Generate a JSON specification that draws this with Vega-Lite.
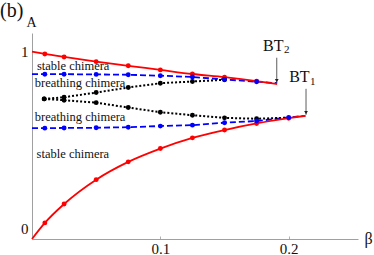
{
  "$schema": "https://vega.github.io/schema/vega-lite/v6.json",
  "width": 326,
  "height": 206,
  "autosize": {"type": "none"},
  "padding": {"left": 32, "top": 33, "right": 16, "bottom": 16},
  "background": "white",
  "config": {
    "view": {"stroke": null},
    "font": "Liberation Serif",
    "axis": {
      "grid": false,
      "domainColor": "#a0a0a0",
      "tickColor": "#b0b0b0",
      "labelFont": "Liberation Serif",
      "labelFontSize": 15,
      "labelColor": "#111",
      "titleFont": "Liberation Serif",
      "titleFontWeight": "normal",
      "titleColor": "#111"
    }
  },
  "datasets": {
    "curves": [
      {"grp": "red", "branch": "ru", "beta": 0, "A": 1.0, "dot": false},
      {"grp": "red", "branch": "ru", "beta": 0.01, "A": 0.988, "dot": true},
      {"grp": "red", "branch": "ru", "beta": 0.025, "A": 0.972, "dot": true},
      {"grp": "red", "branch": "ru", "beta": 0.05, "A": 0.947, "dot": true},
      {"grp": "red", "branch": "ru", "beta": 0.075, "A": 0.925, "dot": true},
      {"grp": "red", "branch": "ru", "beta": 0.1, "A": 0.903, "dot": true},
      {"grp": "red", "branch": "ru", "beta": 0.125, "A": 0.881, "dot": true},
      {"grp": "red", "branch": "ru", "beta": 0.15, "A": 0.864, "dot": true},
      {"grp": "red", "branch": "ru", "beta": 0.175, "A": 0.843, "dot": true},
      {"grp": "red", "branch": "ru", "beta": 0.191, "A": 0.827, "dot": false},
      {"grp": "red", "branch": "rl", "beta": 0, "A": 0, "dot": false},
      {"grp": "red", "branch": "rl", "beta": 0.01, "A": 0.086, "dot": true},
      {"grp": "red", "branch": "rl", "beta": 0.025, "A": 0.187, "dot": true},
      {"grp": "red", "branch": "rl", "beta": 0.05, "A": 0.317, "dot": true},
      {"grp": "red", "branch": "rl", "beta": 0.075, "A": 0.412, "dot": true},
      {"grp": "red", "branch": "rl", "beta": 0.1, "A": 0.483, "dot": true},
      {"grp": "red", "branch": "rl", "beta": 0.125, "A": 0.540, "dot": true},
      {"grp": "red", "branch": "rl", "beta": 0.15, "A": 0.582, "dot": true},
      {"grp": "red", "branch": "rl", "beta": 0.175, "A": 0.617, "dot": true},
      {"grp": "red", "branch": "rl", "beta": 0.2, "A": 0.645, "dot": true},
      {"grp": "red", "branch": "rl", "beta": 0.213, "A": 0.658, "dot": false},
      {"grp": "blue", "branch": "bu", "beta": 0, "A": 0.880, "dot": false},
      {"grp": "blue", "branch": "bu", "beta": 0.01, "A": 0.880, "dot": true},
      {"grp": "blue", "branch": "bu", "beta": 0.025, "A": 0.880, "dot": true},
      {"grp": "blue", "branch": "bu", "beta": 0.05, "A": 0.879, "dot": true},
      {"grp": "blue", "branch": "bu", "beta": 0.075, "A": 0.877, "dot": true},
      {"grp": "blue", "branch": "bu", "beta": 0.1, "A": 0.872, "dot": true},
      {"grp": "blue", "branch": "bu", "beta": 0.125, "A": 0.865, "dot": true},
      {"grp": "blue", "branch": "bu", "beta": 0.15, "A": 0.852, "dot": true},
      {"grp": "blue", "branch": "bu", "beta": 0.175, "A": 0.840, "dot": true},
      {"grp": "blue", "branch": "bu", "beta": 0.191, "A": 0.832, "dot": false},
      {"grp": "blue", "branch": "bl", "beta": 0, "A": 0.592, "dot": false},
      {"grp": "blue", "branch": "bl", "beta": 0.01, "A": 0.592, "dot": true},
      {"grp": "blue", "branch": "bl", "beta": 0.025, "A": 0.593, "dot": true},
      {"grp": "blue", "branch": "bl", "beta": 0.05, "A": 0.594, "dot": true},
      {"grp": "blue", "branch": "bl", "beta": 0.075, "A": 0.597, "dot": true},
      {"grp": "blue", "branch": "bl", "beta": 0.1, "A": 0.603, "dot": true},
      {"grp": "blue", "branch": "bl", "beta": 0.125, "A": 0.608, "dot": true},
      {"grp": "blue", "branch": "bl", "beta": 0.15, "A": 0.621, "dot": true},
      {"grp": "blue", "branch": "bl", "beta": 0.175, "A": 0.630, "dot": true},
      {"grp": "blue", "branch": "bl", "beta": 0.2, "A": 0.649, "dot": true},
      {"grp": "blue", "branch": "bl", "beta": 0.213, "A": 0.658, "dot": false},
      {"grp": "black", "branch": "ku", "beta": 0.0095, "A": 0.748, "dot": true},
      {"grp": "black", "branch": "ku", "beta": 0.025, "A": 0.757, "dot": true},
      {"grp": "black", "branch": "ku", "beta": 0.05, "A": 0.782, "dot": true},
      {"grp": "black", "branch": "ku", "beta": 0.075, "A": 0.809, "dot": true},
      {"grp": "black", "branch": "ku", "beta": 0.1, "A": 0.832, "dot": true},
      {"grp": "black", "branch": "ku", "beta": 0.125, "A": 0.841, "dot": true},
      {"grp": "black", "branch": "ku", "beta": 0.15, "A": 0.850, "dot": true},
      {"grp": "black", "branch": "kl", "beta": 0.0095, "A": 0.748, "dot": true},
      {"grp": "black", "branch": "kl", "beta": 0.025, "A": 0.741, "dot": true},
      {"grp": "black", "branch": "kl", "beta": 0.05, "A": 0.728, "dot": true},
      {"grp": "black", "branch": "kl", "beta": 0.075, "A": 0.702, "dot": true},
      {"grp": "black", "branch": "kl", "beta": 0.1, "A": 0.677, "dot": true},
      {"grp": "black", "branch": "kl", "beta": 0.125, "A": 0.661, "dot": true},
      {"grp": "black", "branch": "kl", "beta": 0.15, "A": 0.647, "dot": true},
      {"grp": "black", "branch": "kl", "beta": 0.175, "A": 0.642, "dot": true},
      {"grp": "black", "branch": "kl", "beta": 0.2, "A": 0.648, "dot": false}
    ],
    "regions": [
      {"text": "stable chimera", "beta": 0.0038, "A": 0.901},
      {"text": "breathing chimera", "beta": 0.0022, "A": 0.811},
      {"text": "breathing chimera", "beta": 0.0022, "A": 0.631},
      {"text": "stable chimera", "beta": 0.0036, "A": 0.433}
    ],
    "bt": [
      {"name": "BT", "sub": "2", "beta": 0.1959, "A": 1.0016, "Asub": 0.991, "arrowX": 0.1907, "top": 0.968, "bottom": 0.834, "head": 0.846},
      {"name": "BT", "sub": "1", "beta": 0.2163, "A": 0.836, "Asub": 0.822, "arrowX": 0.2135, "top": 0.802, "bottom": 0.663, "head": 0.675}
    ],
    "panel": [
      {"text": "(b)", "beta": -0.0249, "A": 1.187}
    ]
  },
  "layer": [
    {
      "data": {"name": "curves"},
      "transform": [{"filter": "datum.grp == 'blue'"}],
      "mark": {"type": "line", "color": "#0000ff", "strokeWidth": 1.8, "strokeDash": [6, 3]},
      "encoding": {
        "x": {"field": "beta", "type": "quantitative", "scale": {"domain": [0, 0.254], "nice": false},
          "axis": {"values": [0.1, 0.2], "format": ".1f", "tickSize": -3, "labelPadding": 5, "title": "β", "titleFontSize": 16, "titleAngle": 0, "titleX": 336, "titleY": 4, "titleAlign": "center", "titleBaseline": "alphabetic"}},
        "y": {"field": "A", "type": "quantitative", "scale": {"domain": [0, 1.1], "nice": false},
          "axis": {"values": [0, 1], "format": "d", "ticks": false, "labelPadding": 4,
            "labelBaseline": {"condition": {"test": "datum.value == 0", "value": "bottom"}, "value": "middle"},
            "labelOffset": {"condition": {"test": "datum.value == 0", "value": -3}, "value": 0},
            "title": "A", "titleFontSize": 14, "titleAngle": 0, "titleX": -1, "titleY": -7, "titleAlign": "center", "titleBaseline": "alphabetic"}},
        "detail": {"field": "branch"},
        "order": {"field": "beta"}
      }
    },
    {
      "data": {"name": "curves"},
      "transform": [{"filter": "datum.grp == 'black'"}],
      "mark": {"type": "line", "color": "#000000", "strokeWidth": 2, "strokeDash": [2, 2]},
      "encoding": {
        "x": {"field": "beta", "type": "quantitative"},
        "y": {"field": "A", "type": "quantitative"},
        "detail": {"field": "branch"},
        "order": {"field": "beta"}
      }
    },
    {
      "data": {"name": "curves"},
      "transform": [{"filter": "datum.grp == 'red'"}],
      "mark": {"type": "line", "color": "#ff0000", "strokeWidth": 1.8, "interpolate": "monotone"},
      "encoding": {
        "x": {"field": "beta", "type": "quantitative"},
        "y": {"field": "A", "type": "quantitative"},
        "detail": {"field": "branch"},
        "order": {"field": "beta"}
      }
    },
    {
      "data": {"name": "curves"},
      "transform": [{"filter": "datum.dot && datum.grp == 'red'"}],
      "mark": {"type": "point", "filled": true, "opacity": 1, "color": "#ff0000", "size": 24},
      "encoding": {
        "x": {"field": "beta", "type": "quantitative"},
        "y": {"field": "A", "type": "quantitative"}
      }
    },
    {
      "data": {"name": "curves"},
      "transform": [{"filter": "datum.dot && datum.grp == 'black'"}],
      "mark": {"type": "point", "filled": true, "opacity": 1, "color": "#000000", "size": 24},
      "encoding": {
        "x": {"field": "beta", "type": "quantitative"},
        "y": {"field": "A", "type": "quantitative"}
      }
    },
    {
      "data": {"name": "curves"},
      "transform": [{"filter": "datum.dot && datum.grp == 'blue'"}],
      "mark": {"type": "point", "filled": true, "opacity": 1, "color": "#0000ff", "size": 24},
      "encoding": {
        "x": {"field": "beta", "type": "quantitative"},
        "y": {"field": "A", "type": "quantitative"}
      }
    },
    {
      "data": {"name": "regions"},
      "mark": {"type": "text", "align": "left", "baseline": "alphabetic", "fontSize": 12.5, "font": "Liberation Serif", "color": "#111"},
      "encoding": {
        "x": {"field": "beta", "type": "quantitative"},
        "y": {"field": "A", "type": "quantitative"},
        "text": {"field": "text"}
      }
    },
    {
      "data": {"name": "bt"},
      "mark": {"type": "rule", "color": "#333", "strokeWidth": 0.8},
      "encoding": {
        "x": {"field": "arrowX", "type": "quantitative"},
        "y": {"field": "top", "type": "quantitative"},
        "y2": {"field": "bottom"}
      }
    },
    {
      "data": {"name": "bt"},
      "mark": {"type": "point", "shape": "triangle-down", "filled": true, "opacity": 1, "color": "#222", "size": 14},
      "encoding": {
        "x": {"field": "arrowX", "type": "quantitative"},
        "y": {"field": "head", "type": "quantitative"}
      }
    },
    {
      "data": {"name": "bt"},
      "mark": {"type": "text", "align": "right", "baseline": "alphabetic", "fontSize": 16, "font": "Liberation Serif", "color": "#111"},
      "encoding": {
        "x": {"field": "beta", "type": "quantitative"},
        "y": {"field": "A", "type": "quantitative"},
        "text": {"field": "name"}
      }
    },
    {
      "data": {"name": "bt"},
      "mark": {"type": "text", "align": "left", "baseline": "alphabetic", "fontSize": 11, "font": "Liberation Serif", "color": "#111", "dx": 0.5},
      "encoding": {
        "x": {"field": "beta", "type": "quantitative"},
        "y": {"field": "Asub", "type": "quantitative"},
        "text": {"field": "sub"}
      }
    },
    {
      "data": {"name": "panel"},
      "mark": {"type": "text", "align": "left", "baseline": "alphabetic", "fontSize": 20, "font": "Liberation Serif", "color": "#111"},
      "encoding": {
        "x": {"field": "beta", "type": "quantitative"},
        "y": {"field": "A", "type": "quantitative"},
        "text": {"field": "text"}
      }
    }
  ]
}
